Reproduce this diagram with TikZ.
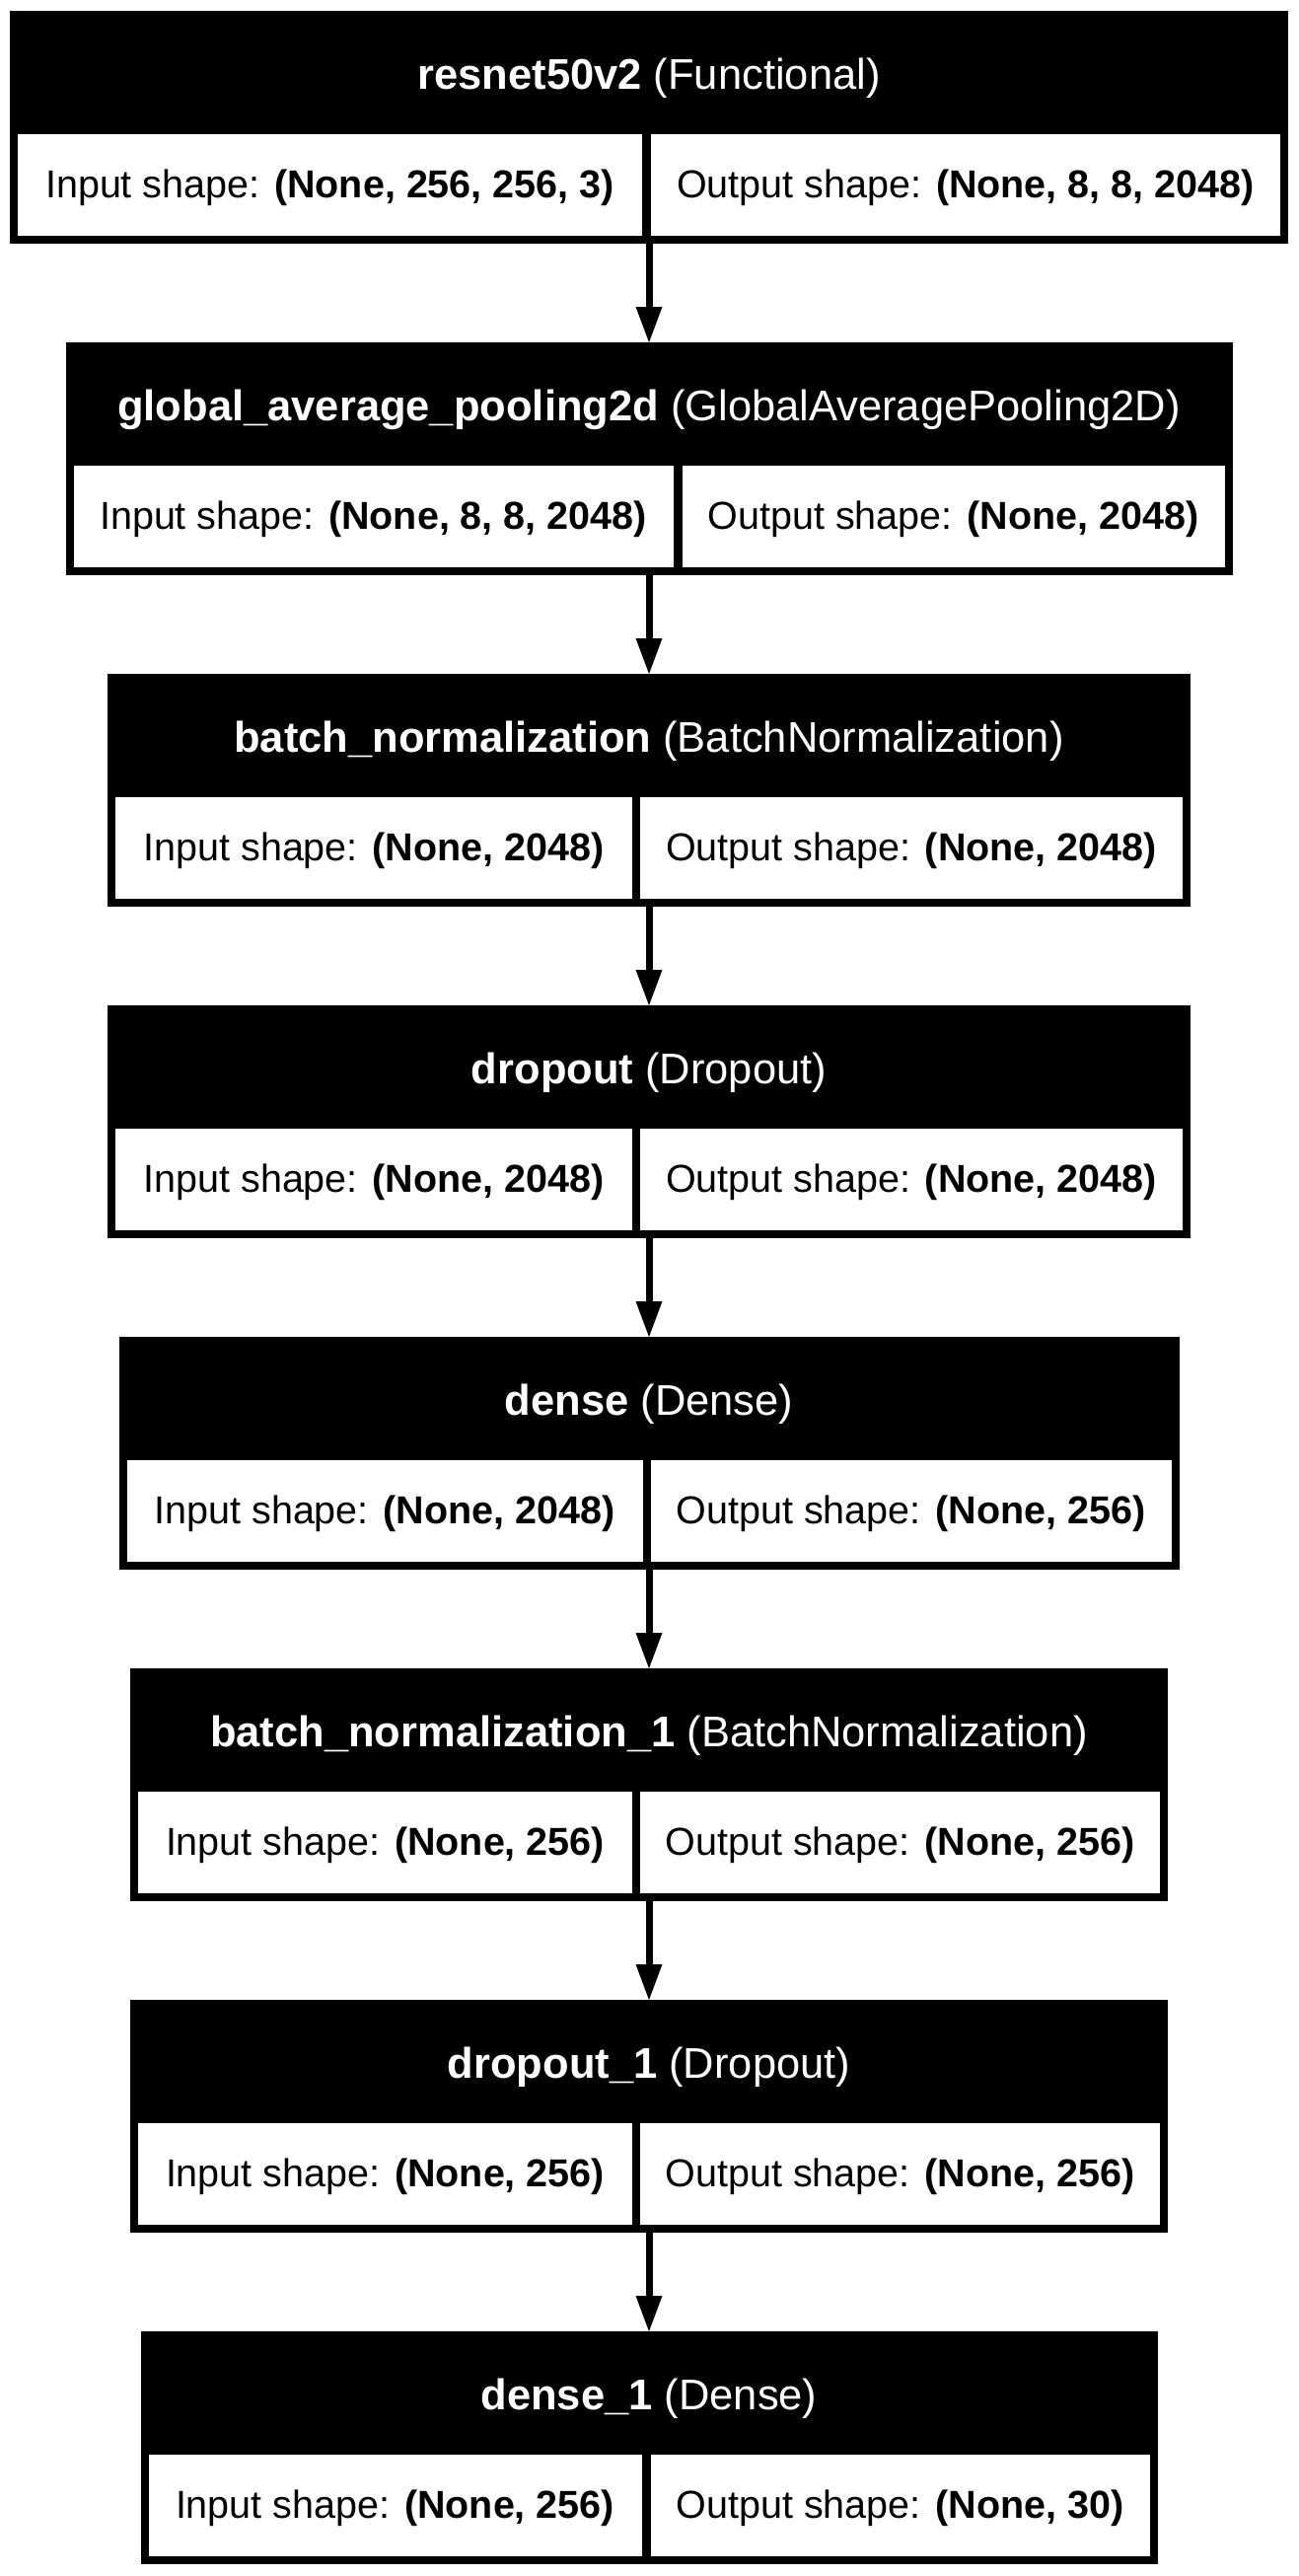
\documentclass[tikz,border=0pt]{standalone}
\usepackage{fontspec}
\setmainfont{Liberation Sans}
\usetikzlibrary{arrows.meta, positioning}

\begin{document}
\begin{tikzpicture}[x=1pt, y=-1pt, node distance=100pt,
    layerbox/.style={rectangle, fill=black, inner sep=0pt, outer sep=0pt, minimum height=236pt},
    layertitle/.style={text=white, anchor=base, inner sep=0pt, font=\fontsize{43.5pt}{52pt}\selectfont},
    shapecell/.style={rectangle, fill=white, inner sep=0pt, outer sep=0pt, minimum height=103pt, text height=28pt, text depth=2pt, font=\fontsize{39.5pt}{47pt}\selectfont},
    flow/.style={-{Triangle[width=27pt, length=36pt, line width=0pt]}, line width=7pt}]
        \fill[white] (0,0) rectangle (1317,2611);
        \useasboundingbox (0,0) rectangle (1317,2611);

        % Define nodes
        \node (resnet) [layerbox, minimum width=1296pt, anchor=north] at (658,11) {};
        \node (gap) [layerbox, minimum width=1183pt, below=of resnet] {};
        \node (bn) [layerbox, minimum width=1098pt, below=of gap] {};
        \node (drop) [layerbox, minimum width=1098pt, below=of bn] {};
        \node (dense) [layerbox, minimum width=1075pt, below=of drop] {};
        \node (bn1) [layerbox, minimum width=1052pt, below=of dense] {};
        \node (drop1) [layerbox, minimum width=1052pt, below=of bn1] {};
        \node (dense1) [layerbox, minimum width=1031pt, below=of drop1] {};

        % Titles
        \node (resnet-title) [layertitle] at ([yshift=-79pt]resnet.north) {\textbf{resnet50v2} (Functional)};
        \node (gap-title) [layertitle] at ([yshift=-79pt]gap.north) {\textbf{global\_average\_pooling2d} (GlobalAveragePooling2D)};
        \node (bn-title) [layertitle] at ([yshift=-79pt]bn.north) {\textbf{batch\_normalization} (BatchNormalization)};
        \node (drop-title) [layertitle] at ([yshift=-79pt]drop.north) {\textbf{dropout} (Dropout)};
        \node (dense-title) [layertitle] at ([yshift=-79pt]dense.north) {\textbf{dense} (Dense)};
        \node (bn1-title) [layertitle] at ([yshift=-79pt]bn1.north) {\textbf{batch\_normalization\_1} (BatchNormalization)};
        \node (drop1-title) [layertitle] at ([yshift=-79pt]drop1.north) {\textbf{dropout\_1} (Dropout)};
        \node (dense1-title) [layertitle] at ([yshift=-79pt]dense1.north) {\textbf{dense\_1} (Dense)};

        % Shape cells
        \node (resnet-in) [shapecell, minimum width=633pt, anchor=north west] at ([xshift=8pt, yshift=-125pt]resnet.north west) {Input shape: \textbf{(None, 256, 256, 3)}};
        \node (resnet-out) [shapecell, minimum width=638pt, anchor=north east] at ([xshift=-8pt, yshift=-125pt]resnet.north east) {Output shape: \textbf{(None, 8, 8, 2048)}};
        \node (gap-in) [shapecell, minimum width=608pt, anchor=north west] at ([xshift=8pt, yshift=-125pt]gap.north west) {Input shape: \textbf{(None, 8, 8, 2048)}};
        \node (gap-out) [shapecell, minimum width=550pt, anchor=north east] at ([xshift=-8pt, yshift=-125pt]gap.north east) {Output shape: \textbf{(None, 2048)}};
        \node (bn-in) [shapecell, minimum width=524pt, anchor=north west] at ([xshift=8pt, yshift=-125pt]bn.north west) {Input shape: \textbf{(None, 2048)}};
        \node (bn-out) [shapecell, minimum width=550pt, anchor=north east] at ([xshift=-8pt, yshift=-125pt]bn.north east) {Output shape: \textbf{(None, 2048)}};
        \node (drop-in) [shapecell, minimum width=524pt, anchor=north west] at ([xshift=8pt, yshift=-125pt]drop.north west) {Input shape: \textbf{(None, 2048)}};
        \node (drop-out) [shapecell, minimum width=550pt, anchor=north east] at ([xshift=-8pt, yshift=-125pt]drop.north east) {Output shape: \textbf{(None, 2048)}};
        \node (dense-in) [shapecell, minimum width=523pt, anchor=north west] at ([xshift=8pt, yshift=-125pt]dense.north west) {Input shape: \textbf{(None, 2048)}};
        \node (dense-out) [shapecell, minimum width=528pt, anchor=north east] at ([xshift=-8pt, yshift=-125pt]dense.north east) {Output shape: \textbf{(None, 256)}};
        \node (bn1-in) [shapecell, minimum width=501pt, anchor=north west] at ([xshift=8pt, yshift=-125pt]bn1.north west) {Input shape: \textbf{(None, 256)}};
        \node (bn1-out) [shapecell, minimum width=527pt, anchor=north east] at ([xshift=-8pt, yshift=-125pt]bn1.north east) {Output shape: \textbf{(None, 256)}};
        \node (drop1-in) [shapecell, minimum width=501pt, anchor=north west] at ([xshift=8pt, yshift=-125pt]drop1.north west) {Input shape: \textbf{(None, 256)}};
        \node (drop1-out) [shapecell, minimum width=527pt, anchor=north east] at ([xshift=-8pt, yshift=-125pt]drop1.north east) {Output shape: \textbf{(None, 256)}};
        \node (dense1-in) [shapecell, minimum width=500pt, anchor=north west] at ([xshift=8pt, yshift=-125pt]dense1.north west) {Input shape: \textbf{(None, 256)}};
        \node (dense1-out) [shapecell, minimum width=506pt, anchor=north east] at ([xshift=-8pt, yshift=-125pt]dense1.north east) {Output shape: \textbf{(None, 30)}};

        % Draw arrows
        \draw[flow] (resnet) -- (gap);
        \draw[flow] (gap) -- (bn);
        \draw[flow] (bn) -- (drop);
        \draw[flow] (drop) -- (dense);
        \draw[flow] (dense) -- (bn1);
        \draw[flow] (bn1) -- (drop1);
        \draw[flow] (drop1) -- (dense1);
    \end{tikzpicture}
\end{document}
